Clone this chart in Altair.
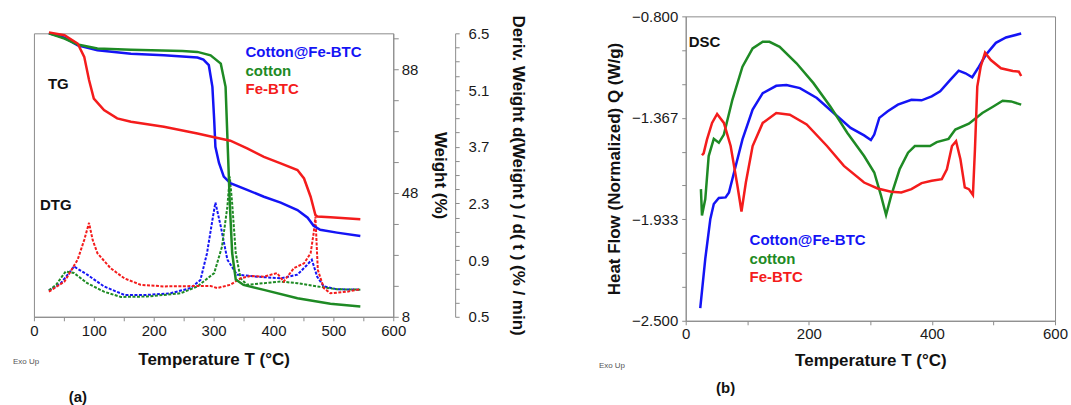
import altair as alt
import pandas as pd

FONT = "Liberation Sans"
BLUE = "#1414f5"
GREEN = "#1e8a24"
RED = "#f41c1c"
SERIES = ["Cotton@Fe-BTC", "cotton", "Fe-BTC"]

# ---------------- (a) TG curves: temperature (°C) / weight (%) ----------------
tg_blue_T = [25, 51, 73, 106, 162, 217, 273, 283, 292, 298, 301, 303, 309, 317, 328, 356, 384, 412, 440, 457, 467, 478, 506, 545]
tg_blue_W = [99.6, 98.2, 95.7, 94.1, 93.0, 92.5, 91.8, 91.1, 89.3, 82.3, 71.5, 62.9, 57.7, 53.3, 51.2, 49.0, 46.8, 44.9, 42.5, 40.0, 37.4, 36.1, 35.2, 34.1]

tg_green_T = [25, 51, 73, 106, 162, 248, 273, 295, 312, 320, 324, 327, 331, 337, 350, 384, 440, 495, 545]
tg_green_W = [99.6, 97.9, 96.0, 94.7, 94.3, 93.9, 93.6, 92.5, 89.8, 82.3, 60.9, 44.8, 28.6, 20.0, 18.3, 16.7, 14.0, 12.2, 11.3]

tg_red_T = [25, 51, 73, 84, 92, 100, 117, 139, 162, 217, 273, 301, 328, 356, 384, 412, 440, 451, 462, 470, 473, 495, 545]
tg_red_W = [99.9, 99.0, 96.3, 92.0, 84.5, 78.5, 74.8, 72.1, 71.0, 69.4, 67.2, 66.0, 64.9, 62.4, 59.7, 57.6, 55.4, 52.7, 46.8, 40.9, 40.4, 40.2, 39.5]

# ---------------- (a) DTG curves: temperature (°C) / deriv. weight (%/min) ----------------
dtg_blue_T = [25, 45, 67, 89, 117, 151, 189, 228, 262, 278, 289, 298, 303, 312, 323, 339, 373, 412, 440, 456, 464, 473, 484, 506, 545]
dtg_blue_D = [0.15, 0.33, 0.74, 0.54, 0.25, 0.04, 0.04, 0.08, 0.21, 0.41, 1.07, 1.89, 2.32, 1.73, 0.91, 0.54, 0.49, 0.45, 0.54, 0.78, 0.91, 0.49, 0.25, 0.18, 0.17]

dtg_green_T = [25, 37, 53, 67, 89, 117, 145, 189, 245, 273, 301, 314, 323, 327, 331, 337, 345, 356, 384, 412, 440, 473, 506, 545]
dtg_green_D = [0.15, 0.29, 0.62, 0.58, 0.33, 0.12, -0.01, 0.0, 0.08, 0.25, 0.58, 1.23, 2.22, 2.96, 2.30, 1.07, 0.45, 0.29, 0.33, 0.37, 0.33, 0.25, 0.18, 0.17]

dtg_red_T = [25, 51, 73, 84, 92, 98, 106, 128, 151, 178, 217, 273, 295, 306, 328, 345, 362, 384, 406, 417, 434, 451, 462, 467, 470, 474, 484, 495, 523, 545]
dtg_red_D = [0.12, 0.37, 0.91, 1.40, 1.82, 1.40, 1.07, 0.70, 0.45, 0.29, 0.25, 0.26, 0.26, 0.21, 0.29, 0.45, 0.51, 0.49, 0.58, 0.37, 0.70, 0.82, 1.07, 1.56, 1.97, 0.66, 0.21, 0.08, 0.12, 0.18]

# ---------------- (b) DSC curves: temperature (°C) / heat flow (W/g) ----------------
dsc_blue_T = [23.6, 31.8, 40, 45.6, 53.8, 64.8, 70.3, 78.5, 92.2, 108.7, 125.1, 147.1, 163.6, 185.5, 213, 240.4, 267.9, 289.8, 300.8, 306.3, 314.5, 328.2, 344.7, 366.7, 383.2, 399.6, 413.4, 429.8, 443.5, 454.5, 465.5, 476.4, 487.4, 503.9, 520.3, 545]
dsc_blue_Q = [-2.43, -2.153, -1.931, -1.848, -1.814, -1.811, -1.783, -1.672, -1.487, -1.321, -1.229, -1.188, -1.183, -1.201, -1.256, -1.34, -1.423, -1.465, -1.491, -1.46, -1.367, -1.33, -1.293, -1.266, -1.269, -1.247, -1.219, -1.155, -1.103, -1.118, -1.14, -1.081, -1.016, -0.948, -0.918, -0.896]

dsc_green_T = [24.7, 26.4, 31.8, 37.3, 45.6, 53.8, 62, 75.8, 92.2, 108.7, 125.1, 136.1, 152.6, 180, 207.5, 234.9, 262.4, 289.8, 306.3, 317.3, 325.5, 333.8, 347.5, 361.2, 372.2, 396.9, 407.8, 427, 438, 460, 481.9, 498.4, 514.9, 528.6, 545]
dsc_green_Q = [-1.765, -1.912, -1.82, -1.58, -1.484, -1.506, -1.46, -1.266, -1.081, -0.979, -0.942, -0.942, -0.97, -1.062, -1.173, -1.303, -1.45, -1.58, -1.672, -1.801, -1.909, -1.801, -1.654, -1.561, -1.524, -1.524, -1.502, -1.484, -1.432, -1.399, -1.34, -1.306, -1.271, -1.275, -1.293]

dsc_red_T = [26.4, 29.1, 34.6, 42.8, 51, 62, 73, 84, 90.6, 97.7, 108.7, 125.1, 147.1, 169.1, 196.5, 229.5, 257, 289.8, 311.8, 333.8, 350.3, 366.7, 383.2, 399.6, 416.1, 424.3, 432.6, 439.2, 446.3, 453.4, 460, 466.6, 469.9, 473.7, 479.2, 486.3, 495.7, 512.1, 531.3, 541.2, 545]
dsc_red_Q = [-1.576, -1.565, -1.487, -1.395, -1.345, -1.395, -1.524, -1.746, -1.89, -1.728, -1.524, -1.395, -1.34, -1.349, -1.404, -1.524, -1.635, -1.728, -1.761, -1.779, -1.783, -1.765, -1.731, -1.718, -1.709, -1.654, -1.524, -1.497, -1.598, -1.755, -1.765, -1.798, -1.543, -1.192, -1.081, -1.003, -1.044, -1.09, -1.105, -1.109, -1.133]

# axis tick values
tempA_ticks = list(range(0, 601, 50))
tempB_ticks = list(range(0, 601, 100))
weight_ticks = list(range(8, 99, 10))
deriv_ticks = [round(-0.5 + k * 0.35, 4) for k in range(21)]
hf_ticks = [round(-2.5 + k * 1.7 / 9, 5) for k in range(10)]


def frame(series, T, V):
    return pd.DataFrame({"T": T, "v": V, "series": series})


tg_df = pd.concat([frame(SERIES[0], tg_blue_T, tg_blue_W),
                   frame(SERIES[1], tg_green_T, tg_green_W),
                   frame(SERIES[2], tg_red_T, tg_red_W)])
dtg_df = pd.concat([frame(SERIES[0], dtg_blue_T, dtg_blue_D),
                    frame(SERIES[1], dtg_green_T, dtg_green_D),
                    frame(SERIES[2], dtg_red_T, dtg_red_D)])
dsc_df = pd.concat([frame(SERIES[0], dsc_blue_T, dsc_blue_Q),
                    frame(SERIES[1], dsc_green_T, dsc_green_Q),
                    frame(SERIES[2], dsc_red_T, dsc_red_Q)])

color = alt.Color("series:N", scale=alt.Scale(domain=SERIES, range=[BLUE, GREEN, RED]), legend=None)


def label(text, x, y, col="#111111", size=15, weight="bold", align="left"):
    return alt.Chart(alt.Data(values=[{"k": 0}])).mark_text(
        text=text, align=align, baseline="middle", font=FONT, fontSize=size,
        fontWeight=weight, color=col
    ).encode(x=alt.value(x), y=alt.value(y))


xA = alt.X("T:Q", scale=alt.Scale(domain=[0, 600], nice=False),
           axis=alt.Axis(values=tempA_ticks, labelExpr="datum.value % 100 == 0 ? datum.value : ''",
                         title="Temperature  T  (°C)", tickSize=4, labelPadding=3, titlePadding=13,
                         labelFlush=False, labelOverlap=False))

dtg_layer = alt.Chart(dtg_df).mark_line(strokeWidth=2, strokeDash=[3, 1.5]).encode(
    x=xA,
    y=alt.Y("v:Q", scale=alt.Scale(domain=[-0.5, 6.5], nice=False, zero=False),
            axis=alt.Axis(orient="right", offset=62, values=deriv_ticks,
                          labelExpr="round((datum.value + 0.5) / 0.35) % 4 == 0 ? format(abs(datum.value), '.1f') : ''",
                          title="Deriv. Weight d(Weight ) / d( t )  (% / min)", tickSize=4, labelPadding=9,
                          titlePadding=20, labelFlush=False, labelOverlap=False)),
    color=color,
)

tg_layer = alt.Chart(tg_df).mark_line(strokeWidth=2.5).encode(
    x=xA,
    y=alt.Y("v:Q", scale=alt.Scale(domain=[8, 99.6], nice=False, zero=False),
            axis=alt.Axis(orient="right", values=weight_ticks,
                          labelExpr="(datum.value - 8) % 40 == 0 ? datum.value : ''",
                          title="Weight  (%)", tickSize=5, labelPadding=3, titlePadding=13,
                          labelFlush=False, labelOverlap=False)),
    color=color,
)

panelA = alt.layer(
    dtg_layer, tg_layer,
    label("Cotton@Fe-BTC", 212, 19, BLUE),
    label("cotton", 212, 38, GREEN),
    label("Fe-BTC", 212, 56, RED),
    label("TG", 14, 51),
    label("DTG", 6, 172),
    label("Exo Up", -21, 329, "#555555", 8, "normal"),
    label("(a)", 44, 364, "#111111", 15, "bold", "center"),
).resolve_scale(y="independent").properties(width=360, height=284)

spacer = alt.Chart(alt.Data(values=[{"k": 0}])).mark_point(opacity=0).encode(
    x=alt.value(0), y=alt.value(0)
).properties(width=360, height=17, view=alt.ViewBackground(stroke=None))

dsc_layer = alt.Chart(dsc_df).mark_line(strokeWidth=2.5).encode(
    x=alt.X("T:Q", scale=alt.Scale(domain=[0, 600], nice=False),
            axis=alt.Axis(values=tempB_ticks, labelExpr="datum.value % 200 == 0 ? datum.value : ''",
                          title="Temperature  T  (°C)", tickSize=4, labelPadding=2, titlePadding=11,
                          labelFlush=False, labelOverlap=False)),
    y=alt.Y("v:Q", scale=alt.Scale(domain=[-2.5, -0.8], nice=False, zero=False),
            axis=alt.Axis(values=hf_ticks,
                          labelExpr="round((datum.value + 2.5) * 9 / 1.7) % 3 == 0 ? format(datum.value, '.3f') : ''",
                          title="Heat Flow (Normalized)  Q  (W/g)", tickSize=4, labelPadding=4, titlePadding=8,
                          labelFlush=False, labelOverlap=False)),
    color=color,
)

panelB = alt.layer(
    dsc_layer,
    label("DSC", 3, 26),
    label("Cotton@Fe-BTC", 64, 224, BLUE),
    label("cotton", 64, 243, GREEN),
    label("Fe-BTC", 64, 261, RED),
    label("Exo Up", -87, 350, "#555555", 8, "normal"),
    label("(b)", 40, 372, "#111111", 15, "bold", "center"),
).properties(width=370, height=305)

chart = alt.hconcat(
    alt.vconcat(spacer, panelA, spacing=0, bounds="flush"),
    panelB,
    spacing=653,
    bounds="flush",
).properties(
    padding={"left": 12, "top": 8, "right": 2, "bottom": 0},
    background="white",
).configure_view(
    stroke="#8c8c8c", strokeWidth=1
).configure_axis(
    domainColor="#8c8c8c", tickColor="#8c8c8c", grid=False,
    labelFont=FONT, labelFontSize=15, labelColor="#1a1a1a",
    titleFont=FONT, titleFontSize=17, titleFontWeight="bold", titleColor="#111111",
)

chart.save("out.html", embed_options={"renderer": "svg", "actions": False})
